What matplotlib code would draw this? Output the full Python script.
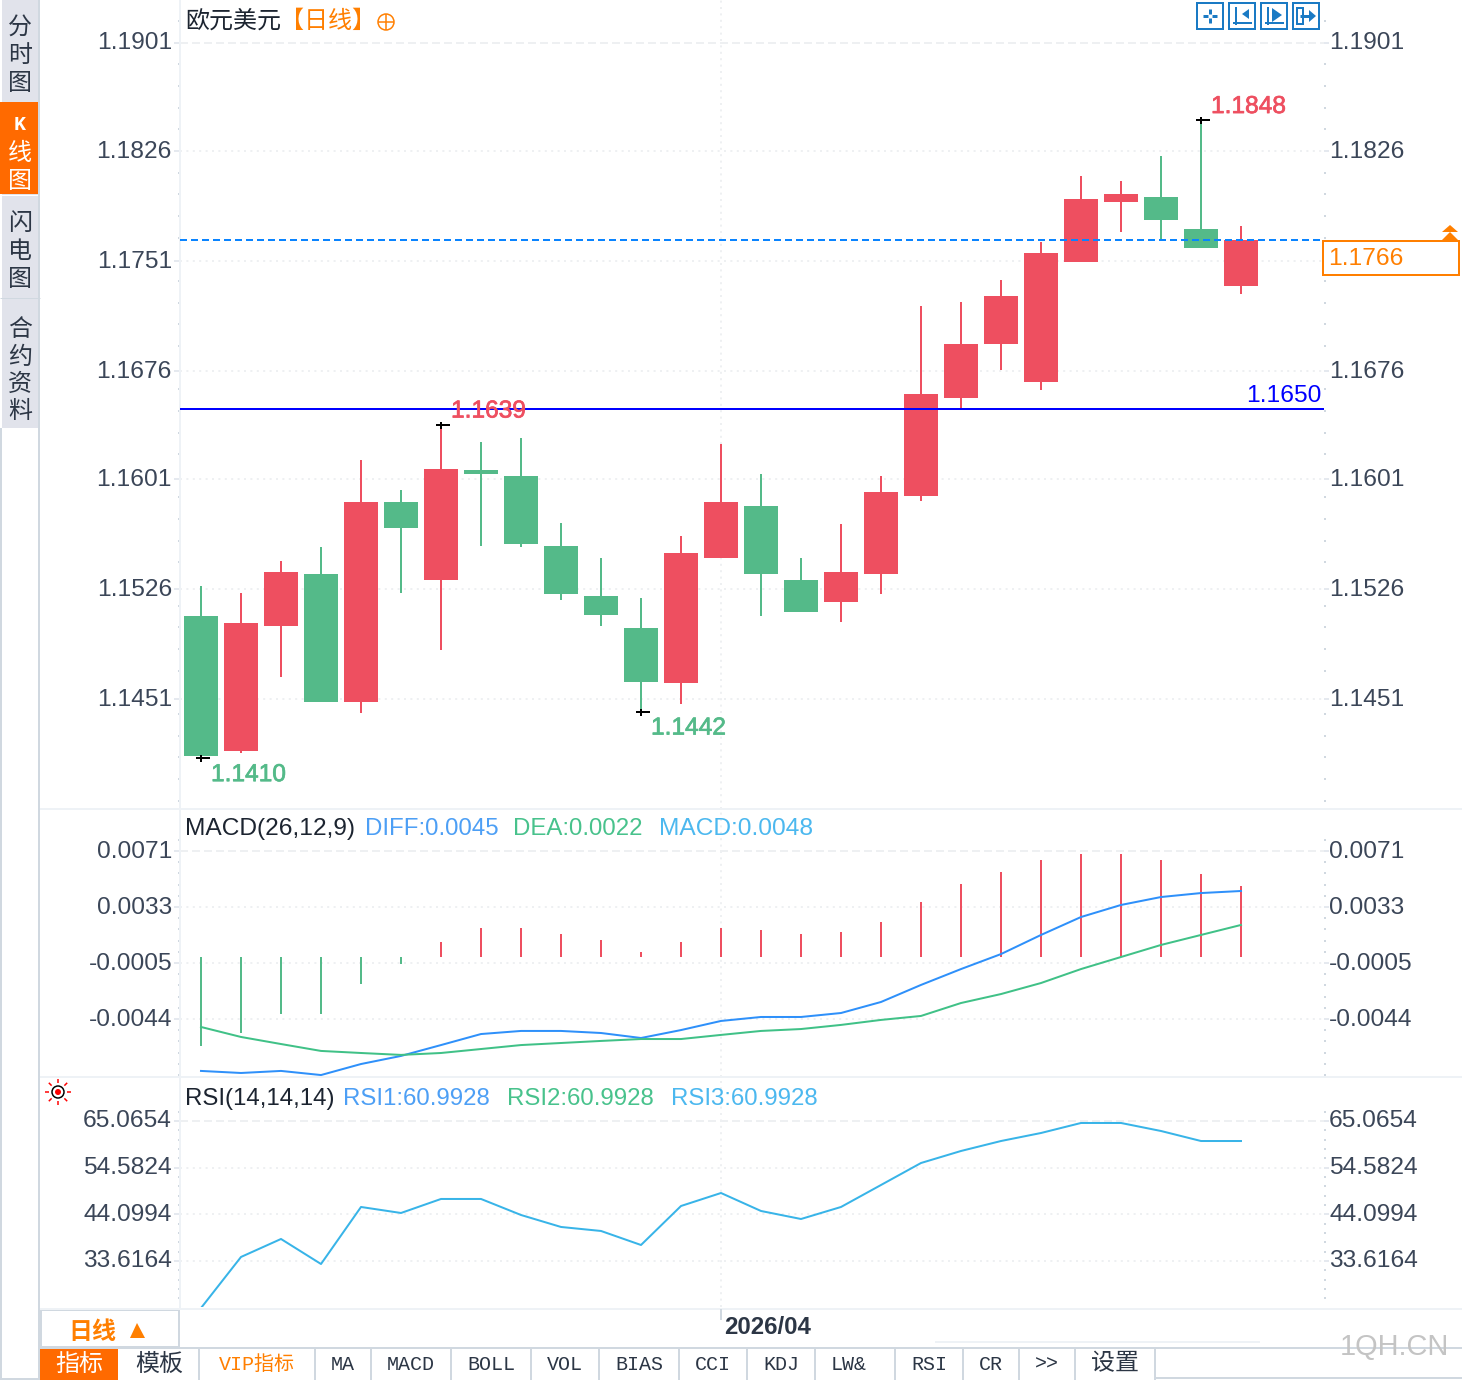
import numpy as np
import matplotlib
matplotlib.use("Agg")
import matplotlib.pyplot as plt
import matplotlib.patheffects as pe
from matplotlib.patches import Rectangle, Circle, Polygon
from matplotlib.transforms import ScaledTranslation

W, H = 1462, 1380
PX = 0.72  # 1 px in points at dpi 100

# ---- data ----
OPEN = [1.15075, 1.14152, 1.15005, 1.15366, 1.14483, 1.15858, 1.15326, 1.16078, 1.16038,
        1.15557, 1.15216, 1.14995, 1.14613, 1.15476, 1.15828, 1.15326, 1.15175, 1.15366,
        1.15898, 1.16570, 1.16941, 1.16681, 1.17503, 1.17915, 1.17955, 1.17734, 1.17343]
HIGH = [1.15285, 1.15235, 1.15456, 1.15547, 1.16149, 1.15938, 1.1639, 1.16269, 1.16299,
        1.15717, 1.15476, 1.15196, 1.15627, 1.16259, 1.16048, 1.15476, 1.15707, 1.16038,
        1.17202, 1.17232, 1.17383, 1.17644, 1.18095, 1.18065, 1.18236, 1.1848, 1.17754]
LOW = [1.1410, 1.14132, 1.14654, 1.14483, 1.14413, 1.15235, 1.14844, 1.15557, 1.15547,
       1.15185, 1.15005, 1.1442, 1.14473, 1.15476, 1.15075, 1.15105, 1.15035, 1.15225,
       1.15868, 1.16500, 1.16761, 1.16630, 1.17503, 1.17714, 1.17654, 1.17604, 1.17283]
CLOSE = [1.14112, 1.15025, 1.15376, 1.14483, 1.15858, 1.15677, 1.16088, 1.16048, 1.15567,
         1.15225, 1.15085, 1.14623, 1.15506, 1.15858, 1.15366, 1.15105, 1.15376, 1.15928,
         1.16600, 1.16941, 1.17272, 1.17564, 1.17935, 1.17975, 1.17794, 1.17604, 1.17654]

LAST_PRICE = 1.17658
LEVEL_LINE = 1.1650
LOW_MARKS = [0, 11]
HIGH_MARKS = [6, 25]

PRICE_TICKS = [1.1901, 1.18267, 1.17512, 1.16757, 1.16016, 1.15261, 1.14506]
PRICE_LABELS = ["1.1901", "1.1826", "1.1751", "1.1676", "1.1601", "1.1526", "1.1451"]
# the last price box hides 1.1751 on the right side
PRICE_LABELS_R = ["1.1901", "1.1826", "", "1.1676", "1.1601", "1.1526", "1.1451"]

MACD_HIST = [-0.00605, -0.00517, -0.00388, -0.00388, -0.00184, -0.00048, 0.00102,
             0.00197, 0.00197, 0.00156, 0.00116, 0.00034, 0.00102, 0.00197, 0.00184,
             0.00156, 0.00170, 0.00238, 0.00374, 0.00497, 0.00578, 0.00660, 0.00701,
             0.00701, 0.00660, 0.00565, 0.00483]
DIFF = [-0.00775, -0.00789, -0.00775, -0.00803, -0.00728, -0.00673, -0.00599,
        -0.00524, -0.00503, -0.00503, -0.00517, -0.00551, -0.00497, -0.00435,
        -0.00408, -0.00408, -0.00381, -0.00306, -0.00190, -0.00082, 0.00020,
        0.00150, 0.00272, 0.00354, 0.00408, 0.00435, 0.00449]
DEA = [-0.00476, -0.00544, -0.00592, -0.00639, -0.00653, -0.00666, -0.00653,
       -0.00626, -0.00599, -0.00585, -0.00571, -0.00558, -0.00558, -0.00530,
       -0.00503, -0.00490, -0.00462, -0.00428, -0.00401, -0.00313, -0.00252,
       -0.00177, -0.00082, 0.00000, 0.00082, 0.00150, 0.00218]
MACD_TICKS = [0.00721, 0.00340, -0.00041, -0.00422]
MACD_LABELS = ["0.0071", "0.0033", "-0.0005", "-0.0044"]

RSI = [23.05, 34.52, 38.56, 32.94, 45.75, 44.40, 47.55, 47.55, 43.95, 41.26, 40.36,
       37.21, 45.97, 48.89, 44.85, 43.05, 45.75, 50.69, 55.63, 58.33, 60.57, 62.37,
       64.62, 64.62, 62.82, 60.57, 60.57]
RSI_TICKS = [65.0654, 54.5824, 44.0994, 33.6164]
RSI_LABELS = ["65.0654", "54.5824", "44.0994", "33.6164"]

TABS = ["指标", "模板", "VIP指标", "MA", "MACD", "BOLL", "VOL", "BIAS", "CCI", "KDJ",
        "LW&", "RSI", "CR", ">>", "设置"]
TAB_EDGES = [40, 119, 199, 315, 371, 451, 531, 599, 679, 747, 815, 895, 963, 1019, 1075, 1155]

# ---- colours ----
RED = "#ee4f60"
GREEN = "#54ba89"
ORANGE = "#ff7f00"
TAB_ORANGE = "#ff6a00"
SIDE = "#e1e3eb"
BORDER = "#d0d8e0"
PALE = "#eef2f6"
GRID = "#eef0f2"
TEXT = "#3b4658"
DARK = "#2c3645"
ICON = "#1a7ac4"
BLUE_LINE = "#2e90fa"
GREEN_LINE = "#40c187"
SKY_LINE = "#38b4e8"

SANS = ["Liberation Sans", "Noto Sans CJK SC"]
CJK = ["Noto Sans CJK SC", "DejaVu Sans"]
MONO = ["Liberation Mono", "Noto Sans CJK SC"]
plt.rcParams["font.family"] = SANS
FS = 24.5 * PX

fig = plt.figure(figsize=(W / 100, H / 100), dpi=100, facecolor="white")
x = np.arange(len(OPEN))
# tick labels sit 2 px higher than matplotlib centres them
LIFT = ScaledTranslation(0, 2 / 100, fig.dpi_scale_trans)


def pane(top, bottom, ylim, ticks, labels, labels_r=None):
    ax = fig.add_axes([180 / W, 1 - bottom / H, (1324 - 180) / W, (bottom - top) / H])
    ax.set_xlim(-0.525, 28.075)
    ax.set_ylim(*ylim)
    for name in ["top", "bottom", "right"]:
        ax.spines[name].set_visible(False)
    ax.spines["left"].set_color(PALE)
    ax.spines["left"].set_linewidth(2 * PX)

    ax.set_xticks([13])
    ax.set_xticklabels([])
    ax.tick_params(axis="x", length=0)
    ax.set_yticks(ticks)
    ax.set_yticklabels(labels)
    step = ticks[0] - ticks[1]
    minor = [ticks[0] - step * k / 5 for k in range(-1, 5 * len(ticks) + 2)]
    minor = [m for m in minor if ylim[0] < m < ylim[1] and min(abs(m - t) for t in ticks) > step / 10]
    ax.set_yticks(minor, minor=True)
    ax.tick_params(axis="y", which="major", length=6 * PX, width=1.5 * PX, color="#dde3ea",
                   pad=2 * PX, labelsize=FS, labelcolor=TEXT)
    ax.tick_params(axis="y", which="minor", length=2 * PX, width=2 * PX, color=BORDER)

    right = ax.secondary_yaxis("right")
    right.set_yticks(ticks)
    right.set_yticklabels(labels_r or labels)
    right.set_yticks(minor, minor=True)
    right.spines["right"].set_visible(False)
    right.tick_params(axis="y", which="major", length=5 * PX, width=1.5 * PX, color="#dde3ea",
                      pad=0, labelsize=FS, labelcolor=TEXT)
    right.tick_params(axis="y", which="minor", length=2 * PX, width=2 * PX, color=BORDER)

    for lab in list(ax.get_yticklabels()) + list(right.get_yticklabels()):
        lab.set_transform(lab.get_transform() + LIFT)

    ax.grid(True, which="major", color=GRID, lw=2 * PX, ls=(0, (1, 2.2)))
    ax.yaxis.get_gridlines()[0].set_linestyle((0, (4, 2)))
    ax.set_axisbelow(True)
    return ax


# ---- price pane ----
ax = pane(0, 809, (1.13751, 1.19304), PRICE_TICKS, PRICE_LABELS, PRICE_LABELS_R)
colors = [RED if c >= o else GREEN for o, c in zip(OPEN, CLOSE)]
ax.vlines(x, LOW, HIGH, colors=colors, lw=2 * PX, zorder=2)
ax.bar(x, np.array(CLOSE) - np.array(OPEN), bottom=OPEN, width=34 / 40, color=colors, zorder=3)
ax.axhline(LAST_PRICE, color="#0a84ff", lw=2 * PX, ls=(0, (3.5, 2)), zorder=4)
ax.axhline(LEVEL_LINE, color="#0000ff", lw=2 * PX, zorder=4)

for i in LOW_MARKS + HIGH_MARKS:
    is_low = i in LOW_MARKS
    val = LOW[i] if is_low else HIGH[i]
    col = GREEN if is_low else RED
    ax.plot(i + 0.05, val, marker="_", ms=14 * PX, mew=2 * PX, color="black", zorder=5)
    ax.plot(i, val, marker="|", ms=7 * PX, mew=2 * PX, color="black", zorder=5)
    ax.annotate(f"{val:.4f}", (i, val), xytext=(10, -17 if is_low else 13), textcoords="offset pixels",
                color=col, fontsize=FS, va="center", ha="left", zorder=6,
                path_effects=[pe.withStroke(linewidth=0.5, foreground=col)])
ax.annotate(f"{LEVEL_LINE:.4f}", (28.025, LEVEL_LINE), xytext=(0, 13), textcoords="offset pixels",
            color="#0000ff", fontsize=FS, va="center", ha="right", zorder=6)

# ---- MACD pane ----
ax = pane(809, 1077, (-0.008163, 0.010068), MACD_TICKS, MACD_LABELS)
hist_colors = [RED if v >= 0 else GREEN for v in MACD_HIST]
ax.vlines(x, 0, MACD_HIST, colors=hist_colors, lw=2 * PX, zorder=2)
ax.plot(x, DIFF, color=BLUE_LINE, lw=2 * PX, zorder=3)
ax.plot(x, DEA, color=GREEN_LINE, lw=2 * PX, zorder=3)

# ---- RSI pane ----
ax = pane(1077, 1307, (23.28, 74.95), RSI_TICKS, RSI_LABELS)
ax.plot(x, RSI, color=SKY_LINE, lw=2 * PX, zorder=3)

# ---- page chrome, pixel coordinates ----
ui = fig.add_axes([0, 0, 1, 1], zorder=10)
ui.set_xlim(0, W)
ui.set_ylim(H, 0)
ui.axis("off")
ui.patch.set_visible(False)


def rect(x0, y0, x1, y1, fc="none", ec="none", lw=0):
    ui.add_patch(Rectangle((x0, y0), x1 - x0, y1 - y0, fc=fc, ec=ec, lw=lw * PX))


def seg(xs, ys, color=BORDER, lw=2):
    ui.plot(xs, ys, color=color, lw=lw * PX, solid_capstyle="butt")


def label(px, py, s, color=TEXT, ha="left", size=24, family=SANS, weight="normal"):
    ui.text(px, py + 2, s, color=color, ha=ha, va="center", fontsize=size * PX,
            family=family, fontweight=weight)


# left side tabs
rect(2, 0, 38, 428, fc=SIDE)
rect(0, 102, 38, 194, fc=TAB_ORANGE)
seg([0, 40], [195, 195], "white", 1)
seg([0, 40], [298, 298], BORDER, 1)
seg([39, 39], [0, H], BORDER)
seg([1, 1], [428, H], BORDER)
seg([0, 40], [1379, 1379], BORDER)
side_chars = [("分", 25), ("时", 54), ("图", 82), ("闪", 222), ("电", 250), ("图", 278),
              ("合", 328), ("约", 355), ("资", 382), ("料", 410)]
for ch, py in side_chars:
    label(20, py, ch, DARK, "center", 24, CJK)
label(20, 123, "K", "white", "center", 20, MONO, "bold")
for ch, py in [("线", 152), ("图", 180)]:
    label(20, py, ch, "white", "center", 24, CJK)

# separators
seg([40, W], [809, 809], PALE)
seg([40, W], [1077, 1077], PALE)
seg([40, W], [1309, 1309], PALE)

# title row
label(185, 19, "欧元美元", "#1c2430", family=CJK)
label(280, 19, "【日线】", ORANGE, family=CJK)
ui.add_patch(Circle((386, 22), 8, fc="none", ec=ORANGE, lw=1.5 * PX))
seg([378, 394], [22, 22], ORANGE, 1.5)
seg([386, 386], [14, 30], ORANGE, 1.5)

# toolbar icons
for x0 in [1197, 1229, 1261, 1293]:
    rect(x0, 3, x0 + 26, 29, ec=ICON, lw=2)
seg([1203, 1208], [16, 16], ICON, 3)
seg([1212, 1217], [16, 16], ICON, 3)
seg([1210, 1210], [9, 14], ICON, 3)
seg([1210, 1210], [18, 23], ICON, 3)
for x0 in [1233, 1265]:
    seg([x0 + 3, x0 + 3], [7, 25], ICON, 2)
    seg([x0, x0 + 19], [23, 23], ICON, 2)
ui.add_patch(Polygon([[1242, 14], [1249, 9], [1249, 19]], fc=ICON))
ui.add_patch(Polygon([[1272, 8], [1282, 15], [1272, 22]], fc=ICON))
rect(1297, 8, 1303, 24, ec=ICON, lw=2)
seg([1300, 1311], [16, 16], ICON, 3)
ui.add_patch(Polygon([[1309, 10], [1316, 16], [1309, 22]], fc=ICON))

# last price box
rect(1323, 241, 1459, 275, fc="white", ec=ORANGE, lw=2)
label(1328, 257, f"{LAST_PRICE:.4f}", ORANGE, size=24.5)
ui.add_patch(Polygon([[1442, 232], [1450, 225], [1458, 232]], fc=ORANGE))
ui.add_patch(Polygon([[1442, 240], [1450, 232], [1458, 240]], fc=ORANGE))

# indicator legends
label(185, 827, "MACD(26,12,9)", "#1c2430", size=24.5)
label(365, 827, "DIFF:0.0045", "#4d9ff5")
label(513, 827, "DEA:0.0022", "#48c28c")
label(659, 827, "MACD:0.0048", "#4cb8ef", size=24.5)
label(185, 1097, "RSI(14,14,14)", "#1c2430")
label(343, 1097, "RSI1:60.9928", "#4d9ff5")
label(507, 1097, "RSI2:60.9928", "#48c28c")
label(671, 1097, "RSI3:60.9928", "#4cb8ef")

# sun icon
ui.add_patch(Circle((58, 1092), 6, fc="white", ec="black", lw=1.5 * PX))
ui.add_patch(Circle((58, 1092), 3, fc="red", ec="none"))
for a in np.arange(0, 2 * np.pi, np.pi / 4):
    seg([58 + 9 * np.cos(a), 58 + 13 * np.cos(a)], [1092 + 9 * np.sin(a), 1092 + 13 * np.sin(a)], "red", 1.5)

# date row
rect(41, 1310, 179, 1347, fc="white", ec=BORDER, lw=2)
label(68, 1330, "日线", ORANGE, family=CJK, weight="bold")
ui.add_patch(Polygon([[130, 1338], [137, 1323], [145, 1338]], fc=ORANGE))
seg([721, 721], [1309, 1320], BORDER)
label(724, 1326, "2026/04", DARK, weight="bold")
seg([935, 1260], [1342, 1342], PALE)

# bottom tabs
seg([40, W], [1348, 1348], BORDER)
rect(40, 1348, 118, 1380, fc=TAB_ORANGE)
seg([1155, W], [1378, 1378], BORDER)
for k, name in enumerate(TABS):
    left, right_edge = TAB_EDGES[k], TAB_EDGES[k + 1]
    if k > 0:
        seg([right_edge, right_edge], [1348, 1380], BORDER)
    col = "white" if k == 0 else (ORANGE if name.startswith("VIP") else DARK)
    is_cjk = name in ("指标", "模板", "设置")
    mid = (left + right_edge) / 2 - (6 if name == "LW&" else 0)
    label(mid, 1362, name, col, "center", 24 if is_cjk else 20, CJK if is_cjk else MONO)

label(1340, 1345, "1QH.CN", "#c4c4c4", size=29)

fig.savefig("out.png", dpi=100)
